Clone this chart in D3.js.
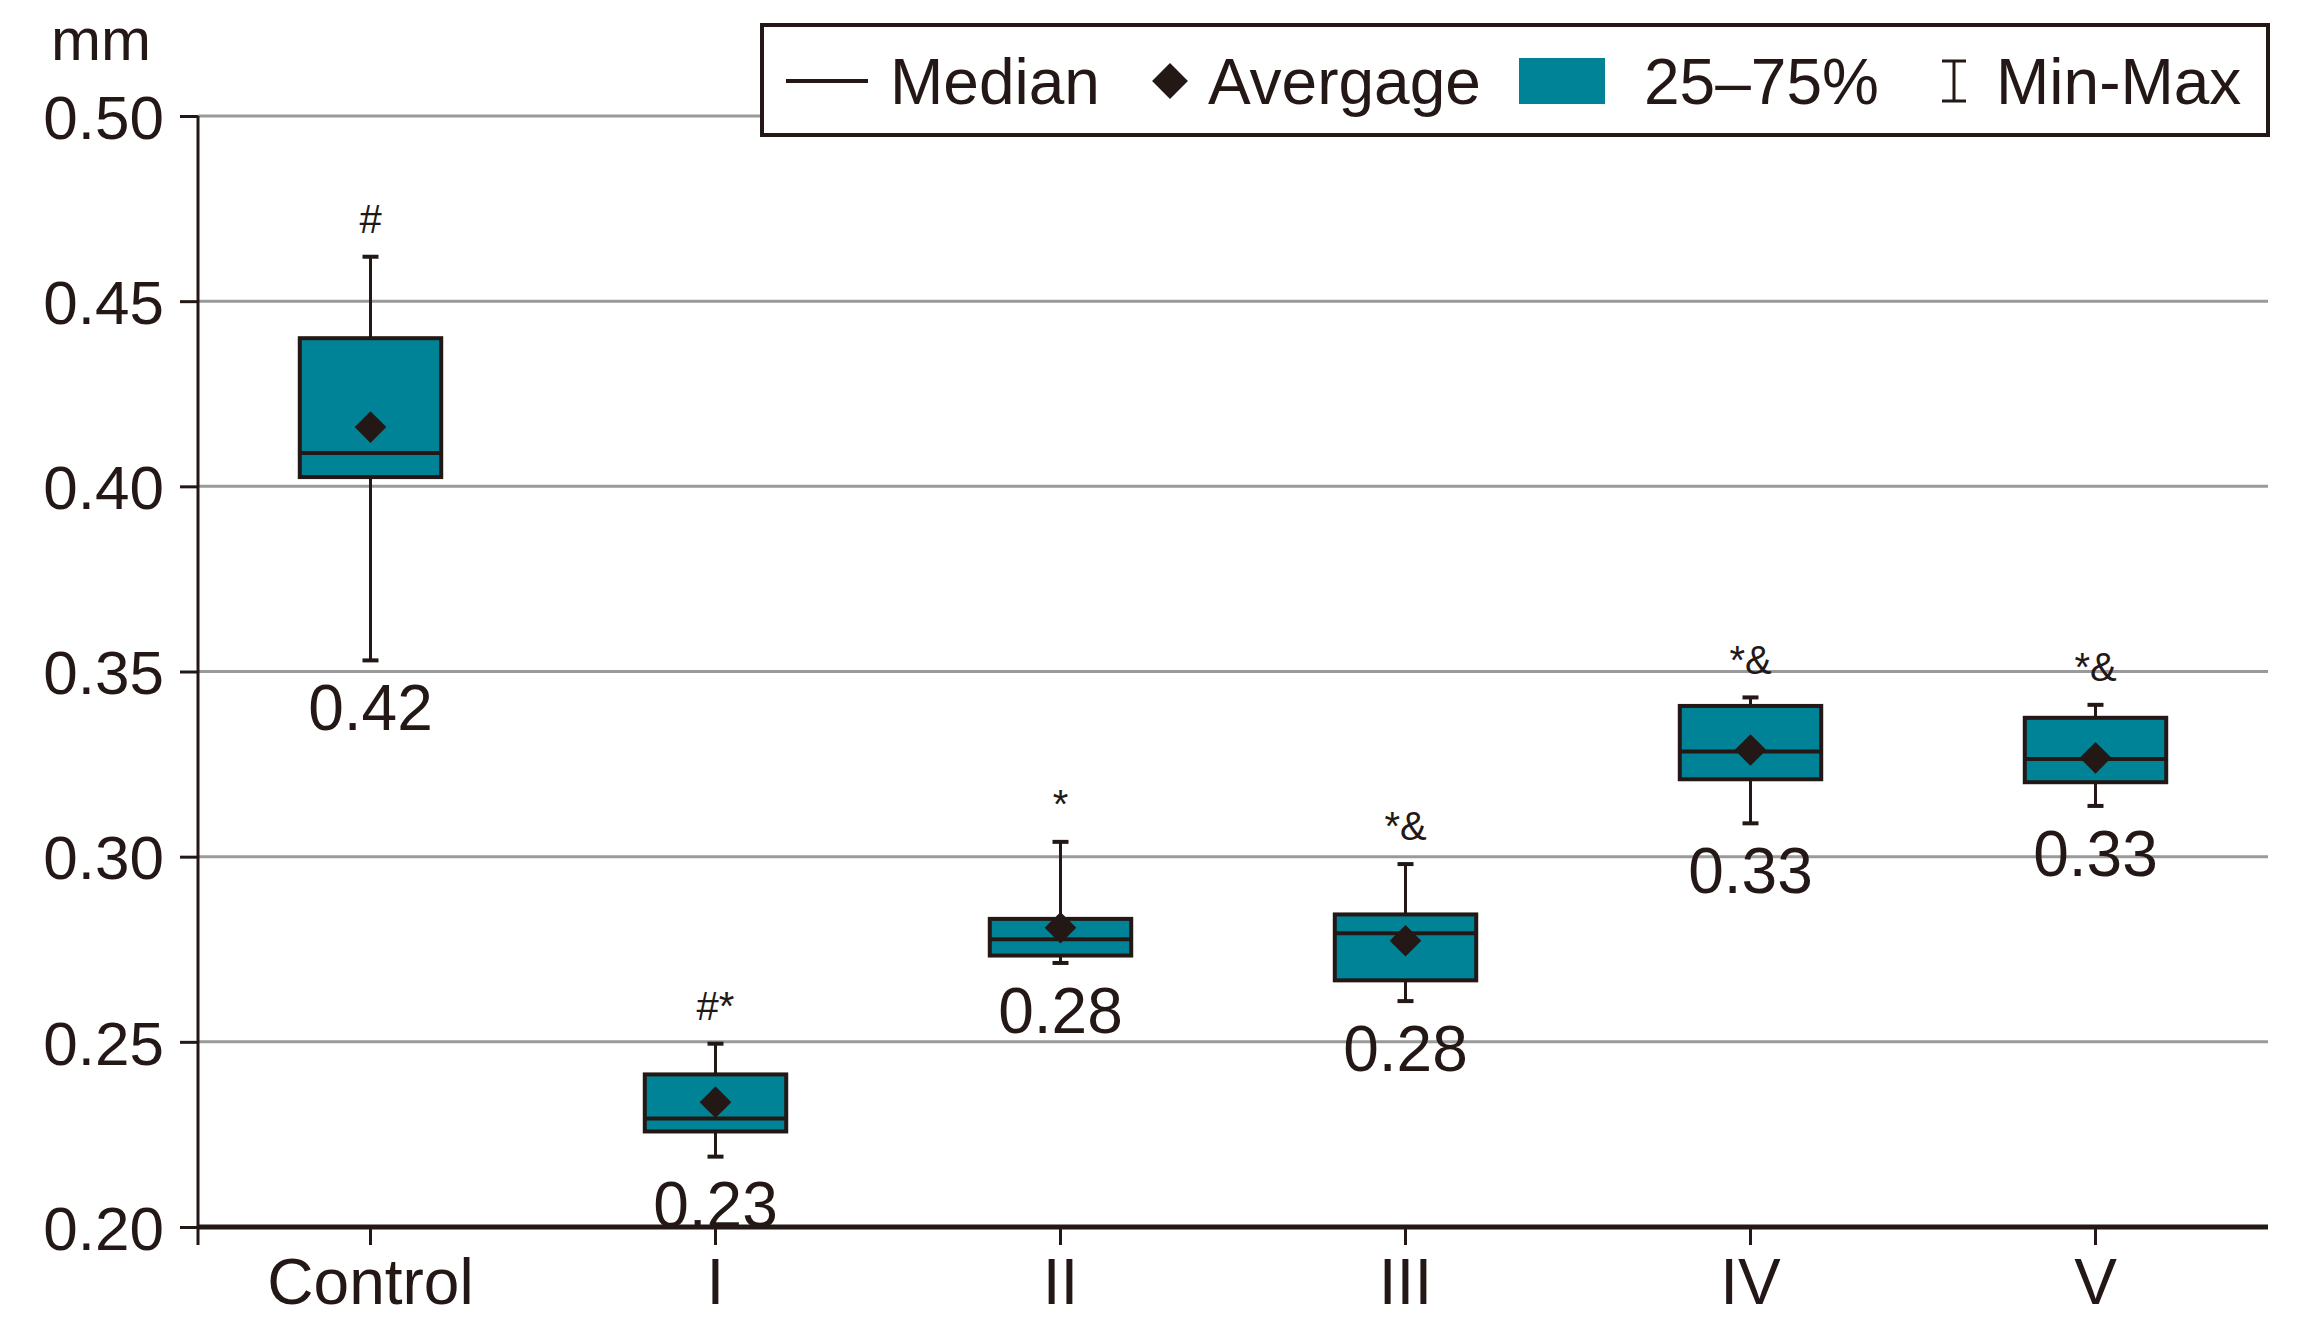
<!DOCTYPE html>
<html>
<head>
<meta charset="utf-8">
<script src="https://cdn.jsdelivr.net/npm/d3@7"></script>
<style>
  body { margin: 0; background: #fff; }
  text { font-family: "Liberation Sans", Arial, sans-serif; fill: #231815; }
</style>
</head>
<body>
<svg id="chart" width="2302" height="1329"></svg>
<script>
// groups and box values (mm)
var groups = ["Control", "I", "II", "III", "IV", "V"];
var maxVals = [0.462, 0.2495, 0.304, 0.298, 0.343, 0.341];
var q3Vals = [0.440, 0.2412, 0.2832, 0.2844, 0.3407, 0.3375];
var medianVals = [0.409, 0.2293, 0.2777, 0.2793, 0.3284, 0.3264];
var q1Vals = [0.4025, 0.2258, 0.2733, 0.2666, 0.3209, 0.3201];
var minVals = [0.353, 0.219, 0.2713, 0.261, 0.309, 0.3137];
var meanVals = [0.416, 0.2337, 0.2808, 0.2773, 0.3288, 0.3267];
var valueLabels = ["0.42", "0.23", "0.28", "0.28", "0.33", "0.33"];
var sigLabels = ["#", "#*", "*", "*&", "*&", "*&"];
var yTicks = [0.20, 0.25, 0.30, 0.35, 0.40, 0.45, 0.50];

var ink = "#231815",
    teal = "#008396",
    gridCol = "#9a9a9a";

var margin = { top: 116, right: 34, bottom: 102, left: 198 };
var width = 2302 - margin.left - margin.right,
    height = 1329 - margin.top - margin.bottom;

var svg = d3.select("#chart")
  .append("g")
    .attr("transform", "translate(" + margin.left + "," + margin.top + ")");

var x = d3.scaleBand().domain(groups).range([0, width]).padding(0);
var y = d3.scaleLinear().domain([0.20, 0.50]).range([height, 0]);

var data = groups.map(function(g, i) {
  return {
    g: g, max: maxVals[i], q3: q3Vals[i], med: medianVals[i],
    q1: q1Vals[i], min: minVals[i], mean: meanVals[i],
    label: valueLabels[i], sig: sigLabels[i]
  };
});

// gridlines
svg.append("g").selectAll("line")
  .data(yTicks.filter(function(d) { return d > 0.2; }))
  .enter().append("line")
    .attr("x1", 0).attr("x2", width)
    .attr("y1", function(d) { return y(d); })
    .attr("y2", function(d) { return y(d); })
    .attr("stroke", gridCol)
    .attr("stroke-width", 3);

// y axis
var yAxis = svg.append("g")
  .call(d3.axisLeft(y).tickValues(yTicks).tickFormat(d3.format(".2f")).tickSize(18).tickPadding(16));
yAxis.select(".domain").remove();
yAxis.selectAll(".tick line").attr("stroke", ink).attr("stroke-width", 3);
yAxis.selectAll(".tick text").attr("font-size", 62).attr("dy", "0.36em").style("fill", ink);
svg.append("line")
  .attr("x1", 0).attr("x2", 0).attr("y1", 0).attr("y2", height + 18)
  .attr("stroke", ink).attr("stroke-width", 3);

// x axis
var xAxis = svg.append("g")
  .attr("transform", "translate(0," + height + ")")
  .call(d3.axisBottom(x).tickSize(18).tickPadding(14));
xAxis.select(".domain").remove();
xAxis.selectAll(".tick line").attr("stroke", ink).attr("stroke-width", 3);
xAxis.selectAll(".tick text").attr("font-size", 64).style("fill", ink);
svg.append("line")
  .attr("x1", 0).attr("x2", width).attr("y1", height).attr("y2", height)
  .attr("stroke", ink).attr("stroke-width", 5);

// boxes
var boxW = x.bandwidth() * 0.41;
var box = svg.append("g").selectAll("g")
  .data(data)
  .enter().append("g")
    .attr("transform", function(d) { return "translate(" + (x(d.g) + x.bandwidth() / 2) + ",0)"; });

box.append("line")
  .attr("x1", 0).attr("x2", 0)
  .attr("y1", function(d) { return y(d.max); })
  .attr("y2", function(d) { return y(d.min); })
  .attr("stroke", ink).attr("stroke-width", 3);

box.append("line")
  .attr("x1", -8).attr("x2", 8)
  .attr("y1", function(d) { return y(d.max); })
  .attr("y2", function(d) { return y(d.max); })
  .attr("stroke", ink).attr("stroke-width", 4);

box.append("line")
  .attr("x1", -8).attr("x2", 8)
  .attr("y1", function(d) { return y(d.min); })
  .attr("y2", function(d) { return y(d.min); })
  .attr("stroke", ink).attr("stroke-width", 4);

box.append("rect")
  .attr("x", -boxW / 2)
  .attr("width", boxW)
  .attr("y", function(d) { return y(d.q3); })
  .attr("height", function(d) { return y(d.q1) - y(d.q3); })
  .attr("fill", teal)
  .attr("stroke", ink).attr("stroke-width", 4);

box.append("line")
  .attr("x1", -boxW / 2).attr("x2", boxW / 2)
  .attr("y1", function(d) { return y(d.med); })
  .attr("y2", function(d) { return y(d.med); })
  .attr("stroke", ink).attr("stroke-width", 4);

var diamond = d3.symbol().type(d3.symbolDiamond2).size(640);
box.append("path")
  .attr("d", diamond)
  .attr("transform", function(d) { return "translate(0," + y(d.mean) + ")"; })
  .attr("fill", ink);

box.append("text")
  .attr("text-anchor", "middle")
  .attr("y", function(d) { return y(d.min) + 47; })
  .attr("dy", "0.36em")
  .attr("font-size", 64)
  .text(function(d) { return d.label; });

box.append("text")
  .attr("text-anchor", "middle")
  .attr("y", function(d) { return y(d.max) - 38; })
  .attr("dy", "0.36em")
  .attr("font-size", 40)
  .text(function(d) { return d.sig; });

// unit label
d3.select("#chart").append("text")
  .attr("x", 101).attr("y", 60)
  .attr("text-anchor", "middle")
  .attr("font-size", 60)
  .text("mm");

// legend
var legend = d3.select("#chart").append("g")
  .attr("transform", "translate(762,25)");
legend.append("rect")
  .attr("width", 1506).attr("height", 110)
  .attr("fill", "#fff")
  .attr("stroke", ink).attr("stroke-width", 4);

var ly = 56;
legend.append("line")
  .attr("x1", 24).attr("x2", 106).attr("y1", ly).attr("y2", ly)
  .attr("stroke", ink).attr("stroke-width", 4);
legend.append("text").attr("x", 128).attr("y", ly).attr("dy", "0.36em")
  .attr("font-size", 64).text("Median");

legend.append("path")
  .attr("d", d3.symbol().type(d3.symbolDiamond2).size(820))
  .attr("transform", "translate(408," + ly + ")")
  .attr("fill", ink);
legend.append("text").attr("x", 446).attr("y", ly).attr("dy", "0.36em")
  .attr("font-size", 64).text("Avergage");

legend.append("rect")
  .attr("x", 757).attr("y", ly - 23).attr("width", 86).attr("height", 46)
  .attr("fill", teal);
legend.append("text").attr("x", 882).attr("y", ly).attr("dy", "0.36em")
  .attr("font-size", 64).text("25\u201375%");

var ib = legend.append("g").attr("transform", "translate(1192," + ly + ")");
ib.append("line").attr("x1", 0).attr("x2", 0).attr("y1", -20).attr("y2", 20)
  .attr("stroke", ink).attr("stroke-width", 3);
ib.append("line").attr("x1", -12).attr("x2", 12).attr("y1", -20).attr("y2", -20)
  .attr("stroke", ink).attr("stroke-width", 3);
ib.append("line").attr("x1", -12).attr("x2", 12).attr("y1", 20).attr("y2", 20)
  .attr("stroke", ink).attr("stroke-width", 3);
legend.append("text").attr("x", 1234).attr("y", ly).attr("dy", "0.36em")
  .attr("font-size", 64).text("Min-Max");
</script>
</body>
</html>
